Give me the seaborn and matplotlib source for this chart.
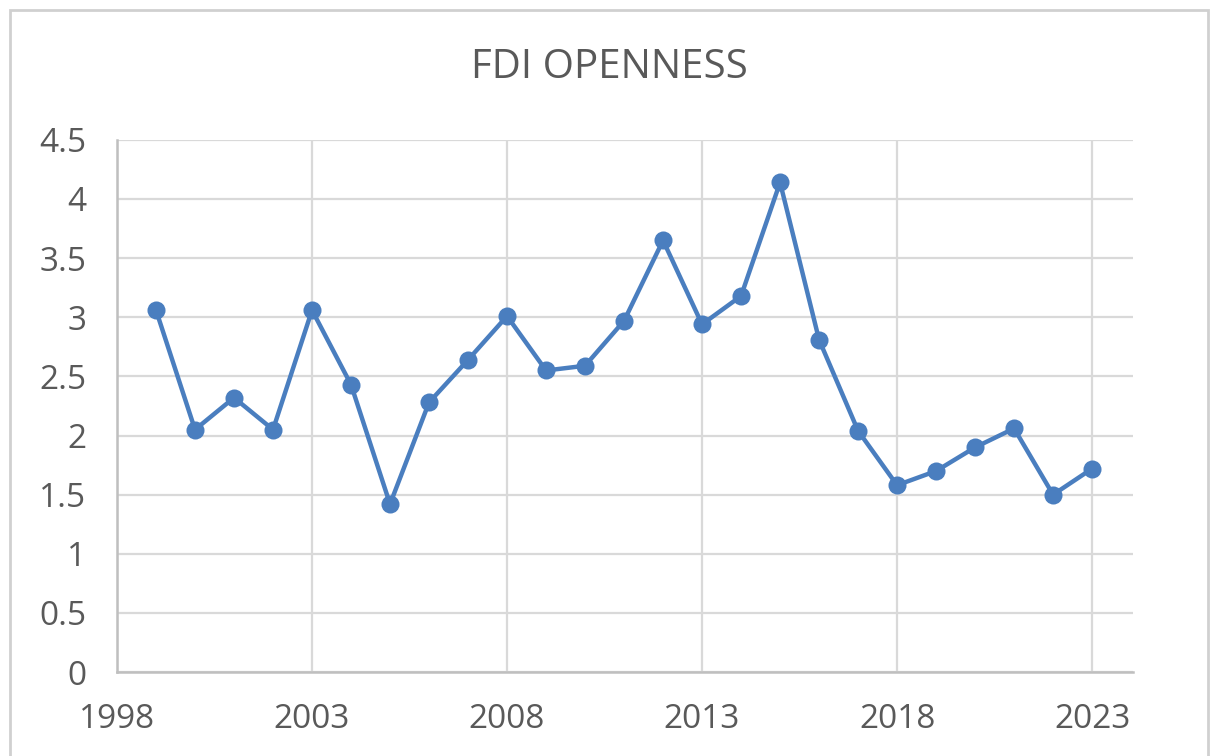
import pandas as pd
import seaborn as sns
from matplotlib import pyplot as plt
from matplotlib.patches import Rectangle

years = [1999, 2000, 2001, 2002, 2003, 2004, 2005, 2006, 2007, 2008, 2009, 2010, 2011,
         2012, 2013, 2014, 2015, 2016, 2017, 2018, 2019, 2020, 2021, 2022, 2023]
fdi_openness = [3.06, 2.05, 2.32, 2.05, 3.06, 2.43, 1.42, 2.28, 2.64, 3.01, 2.55, 2.59, 2.97,
                3.65, 2.94, 3.18, 4.14, 2.81, 2.04, 1.58, 1.70, 1.90, 2.06, 1.50, 1.72]
x_ticks = [1998, 2003, 2008, 2013, 2018, 2023]
y_ticks = [0, 0.5, 1, 1.5, 2, 2.5, 3, 3.5, 4, 4.5]

df = pd.DataFrame({'year': years, 'value': fdi_openness})

sns.set_style("whitegrid")
plt.rcParams['font.family'] = ['Open Sans', 'DejaVu Sans']

fig = plt.figure(figsize=(12.1, 7.56), dpi=100)
ax = fig.add_axes([0.0967, 0.111, 0.8397, 0.704])

line_color = '#4a7ebf'
sns.lineplot(data=df, x='year', y='value', ax=ax, color=line_color, linewidth=3.2,
             marker='o', markersize=13, markeredgewidth=0)

ax.set_xlim(1998, 2024.05)
ax.set_ylim(0, 4.5)
ax.set_xticks(x_ticks)
ax.set_yticks(y_ticks)
ax.set_yticklabels([f'{v:g}' for v in y_ticks])
ax.set_xlabel('')
ax.set_ylabel('')

ax.grid(True, color='#d9d9d9', linewidth=1.6)
ax.tick_params(axis='both', length=0, labelsize=24, labelcolor='#595959')
ax.tick_params(axis='x', pad=22)
ax.tick_params(axis='y', pad=22)

for side in ['top', 'right']:
    ax.spines[side].set_visible(False)
for side in ['left', 'bottom']:
    ax.spines[side].set_color('#bfbfbf')
    ax.spines[side].set_linewidth(1.8)

fig.text(0.504, 0.91, 'FDI OPENNESS', ha='center', va='center', fontsize=29, color='#595959')

# light chart-area border as in the spreadsheet export
fig.patches.append(Rectangle((10 / 1210, -0.05), 1198 / 1210, 1.037, transform=fig.transFigure,
                             fill=False, edgecolor='#d0d0d0', linewidth=2))

plt.savefig('out.png', dpi=100)
